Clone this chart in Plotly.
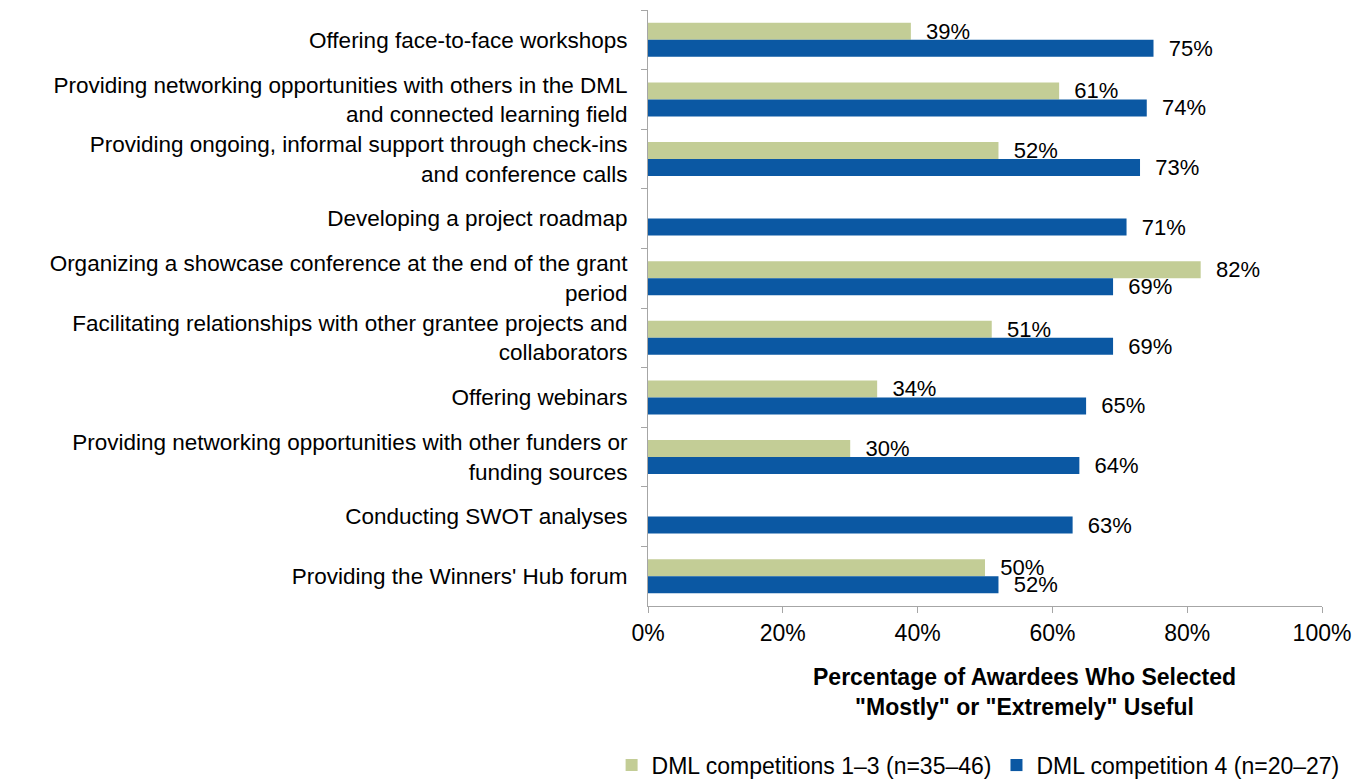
import plotly.graph_objects as go

categories = [
    "Offering face-to-face workshops",
    "Providing networking opportunities with others in the DML<br>and connected learning field",
    "Providing ongoing, informal support through check-ins<br>and conference calls",
    "Developing a project roadmap",
    "Organizing a showcase conference at the end of the grant<br>period",
    "Facilitating relationships with other grantee projects and<br>collaborators",
    "Offering webinars",
    "Providing networking opportunities with other funders or<br>funding sources",
    "Conducting SWOT analyses",
    "Providing the Winners' Hub forum",
]
comp_1_3 = [39, 61, 52, None, 82, 51, 34, 30, None, 50]
comp_4 = [75, 74, 73, 71, 69, 69, 65, 64, 63, 52]
series_names = ["DML competitions 1\u20133 (n=35\u201346)", "DML competition 4 (n=20\u201327)"]
colors = ["#C3CD96", "#0B58A3"]
x_ticks = [0, 20, 40, 60, 80, 100]
x_tick_labels = ["0%", "20%", "40%", "60%", "80%", "100%"]

FONT = "Liberation Sans, Arial, sans-serif"
fig = go.Figure()
for name, vals, col in zip(series_names, [comp_1_3, comp_4], colors):
    fig.add_trace(go.Bar(
        y=categories, x=vals, name=name, orientation="h",
        marker=dict(color=col, line=dict(width=0)),
        text=[("\u00a0\u00a0" + f"{v}%") if v is not None else "" for v in vals],
        textposition="outside", cliponaxis=False, constraintext="none",
        textfont=dict(size=22, color="black", family=FONT),
    ))

fig.update_layout(
    width=1367, height=780,
    margin=dict(l=648, r=45, t=10, b=174, autoexpand=False),
    paper_bgcolor="white", plot_bgcolor="white",
    barmode="group", bargap=0.43, bargroupgap=0,
    font=dict(family=FONT, size=22, color="black"),
    showlegend=True,
    legend=dict(orientation="h", x=-0.054, xanchor="left", y=-0.267, yanchor="middle",
                font=dict(size=23), traceorder="normal", itemwidth=30),
)
fig.update_xaxes(range=[0, 100], tickvals=x_ticks, ticktext=x_tick_labels,
                 showgrid=False, zeroline=False, showline=True, linecolor="#A6A6A6",
                 ticks="outside", ticklen=6, tickcolor="#A6A6A6", automargin=False,
                 tickfont=dict(size=23))
fig.update_yaxes(autorange="reversed", showgrid=False, showline=True, linecolor="#A6A6A6",
                 ticks="outside", ticklen=6, tickcolor="#A6A6A6", tickson="boundaries",
                 automargin=False, ticklabelstandoff=15, tickfont=dict(size=22.5))
fig.add_annotation(text="<b>Percentage of Awardees Who Selected<br>\"Mostly\" or \"Extremely\" Useful</b>",
                   xref="paper", yref="paper", x=0.559, y=-0.144, showarrow=False,
                   font=dict(size=23), align="center", yanchor="middle")
fig.write_html("out.html", config={"displayModeBar": False},
               post_script="document.body.style.margin='0';document.body.style.overflow='hidden';")
